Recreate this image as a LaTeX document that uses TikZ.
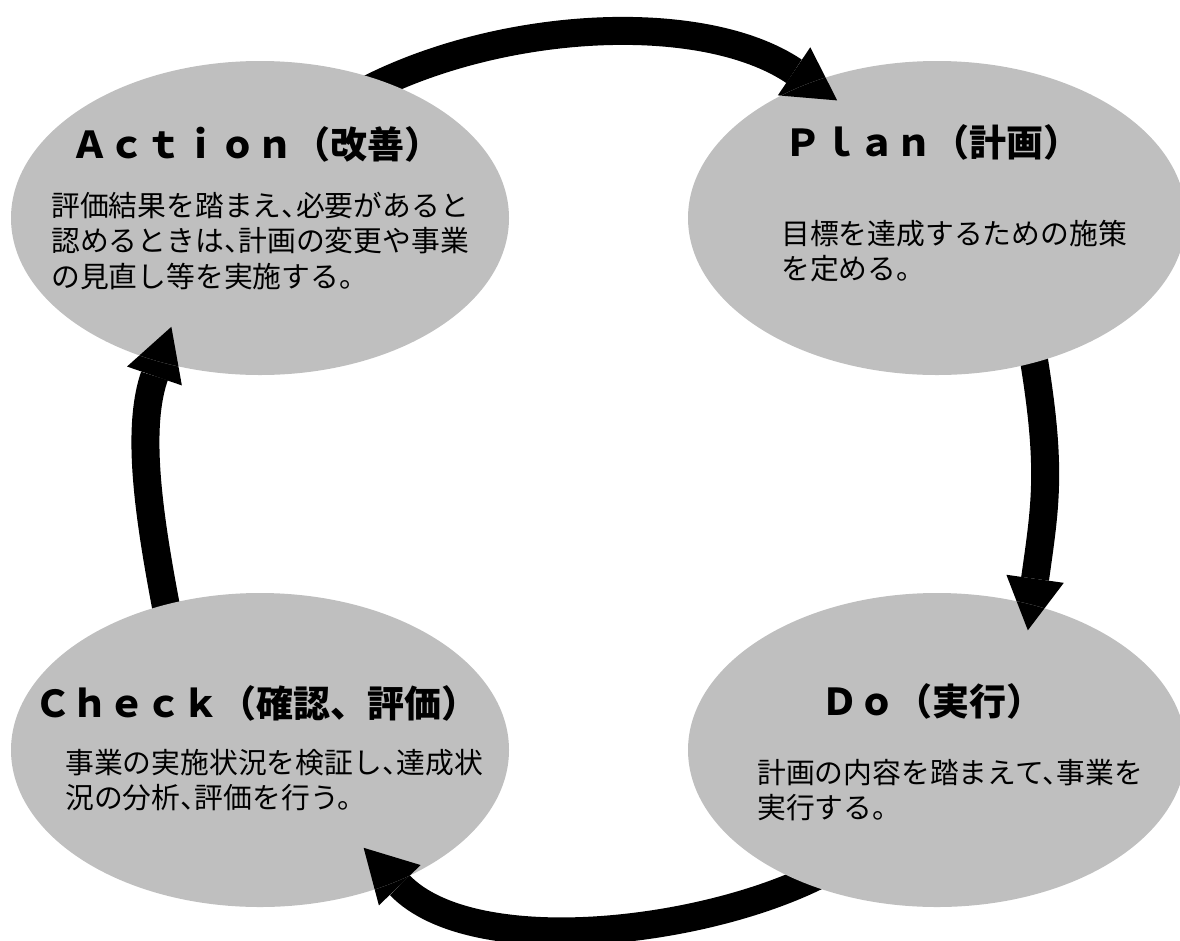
\documentclass[tikz,border=0pt]{standalone}
\usepackage{fontspec}
\setmainfont{Noto Sans CJK JP}
\newfontfamily\bodyfont[RawFeature=+halt]{Noto Sans CJK JP}
\usetikzlibrary{arrows.meta,shapes.geometric}
\pgfdeclarelayer{background}
\pgfsetlayers{background,main}
\definecolor{cyclegray}{HTML}{BFBFBF}
\tikzset{
  stage/.style={
    ellipse,
    fill=cyclegray,
    minimum width=498pt,
    minimum height=314pt,
    inner sep=0pt
  },
  stagetitle/.style={font=\fontsize{37}{42}\selectfont\bfseries, inner sep=0pt},
  stagetext/.style={font=\bodyfont\fontsize{28.8}{35.5}\selectfont, align=left, inner sep=0pt},
  cyclearrow/.style={
    draw=black,
    line width=28pt,
    -{Triangle[width=58pt,length=52pt,line width=0pt]}
  }
}

\begin{document}
\begin{tikzpicture}[x=1pt, y=1pt]
  \useasboundingbox (0,0) rectangle (1180,-940);

  % the four stages of the cycle
  \node[stage] (A) at (260,-218) {};
  \node[stage] (P) at (937,-218) {};
  \node[stage] (D) at (937,-750) {};
  \node[stage] (C) at (260,-750) {};

  % arrows: tails go under the source stage, heads lie on the target stage
  \foreach \src/\dst/\sa/\ea/\out/\in/\loose/\ext in {
      A/P/48/133/28/146/0.78/32pt,
      P/D/304/57/-80/82/1.1/26pt,
      D/C/225/316.5/208/-46/0.69/47pt,
      C/A/123/235.5/101/-109/0.8/37pt} {
    \begin{pgfonlayer}{background}
      \draw[cyclearrow, shorten <=-25pt, shorten >=-\ext]
        (\src.\sa) to[out=\out, in=\in, looseness=\loose] (\dst.\ea);
    \end{pgfonlayer}
    \begin{scope}
      \clip (\dst.center) ellipse [x radius=249pt, y radius=157pt];
      \draw[cyclearrow, shorten <=-25pt, shorten >=-\ext]
        (\src.\sa) to[out=\out, in=\in, looseness=\loose] (\dst.\ea);
    \end{scope}
  }

  % titles
  \node[stagetitle] (A-title) at (256,-144) {Ａｃｔｉｏｎ（改善）};
  \node[stagetitle] (P-title) at (932,-142) {Ｐｌａｎ（計画）};
  \node[stagetitle] (D-title) at (932,-701) {Ｄｏ（実行）};
  \node[stagetitle] (C-title) at (256,-703) {Ｃｈｅｃｋ（確認、評価）};

  % descriptions (base = baseline of the last line)
  \node[stagetext, anchor=base west] (A-text) at (51,-287)
    {評価結果を踏まえ、必要があると\\認めるときは、計画の変更や事業\\の見直し等を実施する。};
  \node[stagetext, anchor=base west] (P-text) at (781,-279.5)
    {目標を達成するための施策\\を定める。};
  \node[stagetext, anchor=base west] (D-text) at (757,-818.5)
    {計画の内容を踏まえて、事業を\\実行する。};
  \node[stagetext, anchor=base west] (C-text) at (65,-808.5)
    {事業の実施状況を検証し、達成状\\況の分析、評価を行う。};
\end{tikzpicture}
\end{document}
